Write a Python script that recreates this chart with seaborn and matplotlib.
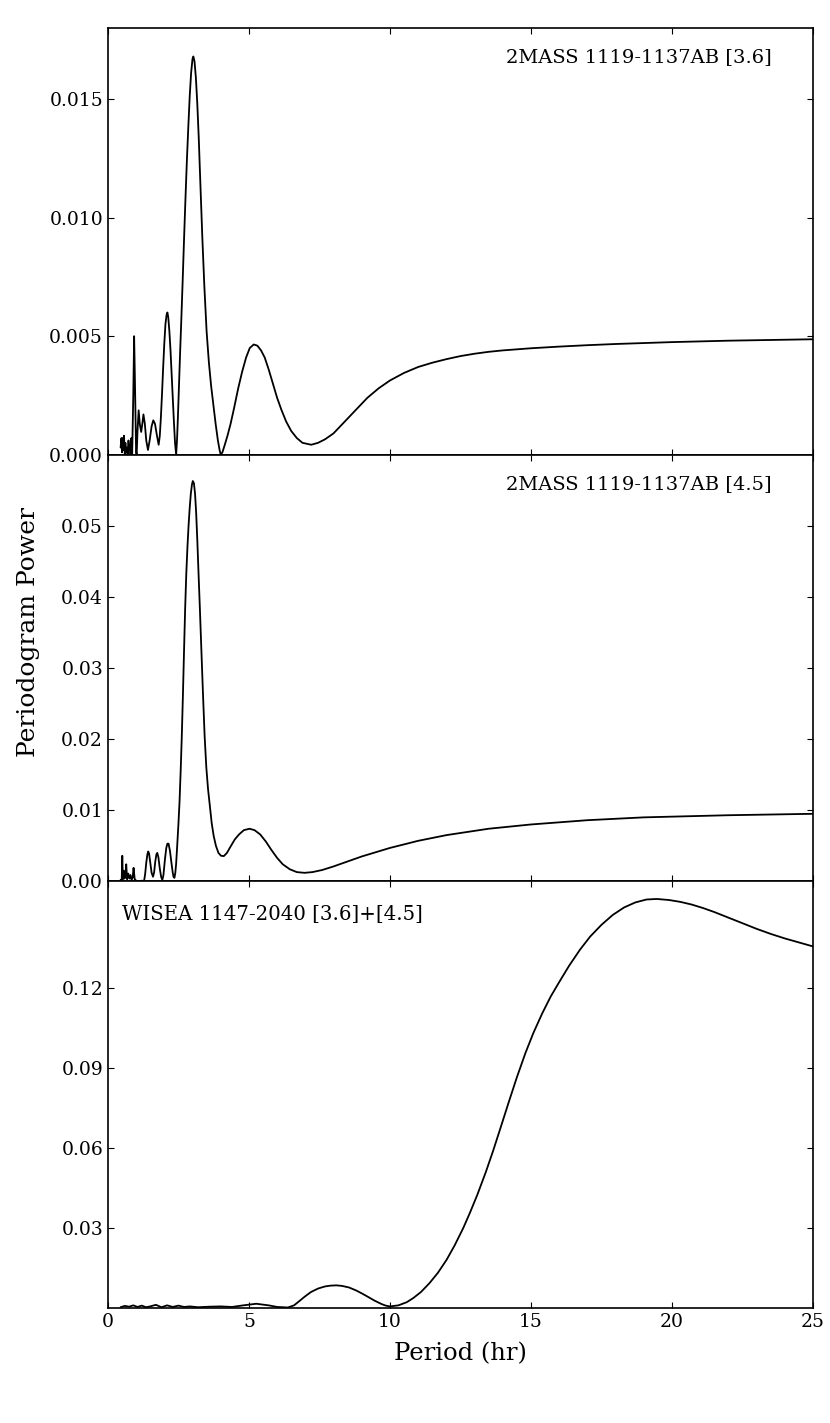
import numpy as np
import pandas as pd
import seaborn as sns
from matplotlib import pyplot as plt
from matplotlib.ticker import FormatStrFormatter

# periodogram values
p1_period = [0.45, 0.48, 0.50, 0.52, 0.55, 0.57, 0.60, 0.62, 0.65, 0.68, 0.70, 0.73, 0.76, 0.78,
             0.80, 0.83, 0.86, 0.90, 0.93, 0.96, 1.00, 1.02, 1.05, 1.09, 1.13, 1.18, 1.22, 1.26,
             1.31, 1.36, 1.42, 1.48, 1.55, 1.61, 1.67, 1.74, 1.80, 1.84, 1.88, 1.92, 1.96, 2.00,
             2.04, 2.08, 2.11, 2.14, 2.18, 2.22, 2.26, 2.30, 2.34, 2.38, 2.42, 2.45, 2.48, 2.52,
             2.56, 2.60, 2.65, 2.70, 2.75, 2.80, 2.85, 2.90, 2.95, 3.00, 3.03, 3.07, 3.12, 3.17,
             3.22, 3.28, 3.35, 3.42, 3.50, 3.58, 3.66, 3.74, 3.82, 3.90, 3.96, 4.00, 4.06, 4.14,
             4.24, 4.35, 4.48, 4.62, 4.76, 4.90, 5.03, 5.17, 5.30, 5.43, 5.56, 5.70, 5.85, 6.00,
             6.15, 6.32, 6.50, 6.70, 6.90, 7.21, 7.45, 7.70, 8.00, 8.40, 8.80, 9.20, 9.60, 10.0,
             10.5, 11.0, 11.5, 12.0, 12.5, 13.0, 13.5, 14.0, 15.0, 16.0, 17.0, 18.0, 20.0, 22.0, 25.0]
p1_power = [0.0003, 0.0007, 0.0001, 0.0007, 0.0002, 0.0008, 0.0, 0.0005, 0.0001, 0.0003, 0.0, 0.0006,
            0.0002, 0.0004, 0.0, 0.0007, 0.0, 0.0025, 0.0050, 0.0030, 0.0001, 0.0, 0.0010, 0.00187,
            0.0013, 0.00096, 0.0013, 0.0017, 0.0013, 0.0006, 0.0002, 0.0006, 0.0012, 0.00145,
            0.0013, 0.0008, 0.00042, 0.0008, 0.0016, 0.0026, 0.0037, 0.0047, 0.0055, 0.0059,
            0.0060, 0.0058, 0.0052, 0.0044, 0.0034, 0.0024, 0.0014, 0.0005, 0.0, 0.0006, 0.0015,
            0.0029, 0.0043, 0.0056, 0.0073, 0.0091, 0.0108, 0.0124, 0.0138, 0.0151, 0.0161,
            0.0167, 0.0168, 0.0166, 0.0159, 0.0148, 0.0134, 0.0114, 0.0091, 0.0071, 0.0052,
            0.0039, 0.0029, 0.0021, 0.0013, 0.0006, 0.0002, 0.0, 0.0001, 0.0004, 0.0008, 0.0013,
            0.0020, 0.0028, 0.0035, 0.0041, 0.0045, 0.00465, 0.0046, 0.0044, 0.0041, 0.0036,
            0.0030, 0.0024, 0.0019, 0.0014, 0.0010, 0.0007, 0.0005, 0.00042, 0.0005, 0.00065,
            0.0009, 0.0014, 0.0019, 0.0024, 0.0028, 0.00313, 0.00345, 0.0037, 0.00388, 0.00403,
            0.00416, 0.00426, 0.00434, 0.0044, 0.00449, 0.00456, 0.00462, 0.00467, 0.00475,
            0.00481, 0.00487]

p2_period = [0.45, 0.49, 0.51, 0.53, 0.56, 0.59, 0.62, 0.65, 0.68, 0.72, 0.76, 0.80, 0.84, 0.88,
             0.91, 0.95, 1.00, 1.10, 1.20, 1.28, 1.32, 1.36, 1.40, 1.43, 1.46, 1.50, 1.55, 1.60,
             1.64, 1.68, 1.72, 1.75, 1.79, 1.84, 1.89, 1.93, 1.97, 2.02, 2.07, 2.11, 2.15, 2.20,
             2.25, 2.30, 2.33, 2.36, 2.39, 2.42, 2.46, 2.50, 2.54, 2.58, 2.62, 2.66, 2.70, 2.74,
             2.78, 2.82, 2.86, 2.90, 2.94, 2.98, 3.01, 3.05, 3.09, 3.13, 3.17, 3.21, 3.26, 3.31,
             3.37, 3.43, 3.49, 3.55, 3.61, 3.68, 3.75, 3.83, 3.92, 4.01, 4.11, 4.22, 4.35, 4.50,
             4.65, 4.82, 5.02, 5.20, 5.40, 5.60, 5.80, 6.00, 6.20, 6.45, 6.70, 6.97, 7.25, 7.60,
             8.00, 8.50, 9.00, 9.50, 10.0, 10.5, 11.0, 11.5, 12.0, 12.5, 13.0, 13.5, 14.0, 15.0,
             16.0, 17.0, 18.0, 19.0, 20.0, 22.0, 25.0]
p2_power = [0.0002, 0.0002, 0.0036, 0.0003, 0.0015, 0.0004, 0.0010, 0.0024, 0.0003, 0.0011, 0.0004,
            0.0009, 0.0002, 0.0006, 0.0019, 0.0003, 0.0001, 0.0, 0.0001, 0.0, 0.0010, 0.0026, 0.0038,
            0.0042, 0.0039, 0.0027, 0.0012, 0.00065, 0.0013, 0.0028, 0.0038, 0.0040, 0.0034, 0.0018,
            0.0006, 0.0002, 0.0009, 0.0030, 0.0047, 0.0053, 0.0053, 0.0043, 0.0027, 0.0012, 0.0006,
            0.0005, 0.0012, 0.0025, 0.0052, 0.0080, 0.0112, 0.0155, 0.0204, 0.0262, 0.0325, 0.0385,
            0.0433, 0.0470, 0.0500, 0.0525, 0.0545, 0.0558, 0.0563, 0.0560, 0.0545, 0.0518, 0.0480,
            0.0437, 0.0385, 0.0330, 0.0265, 0.0204, 0.0160, 0.0130, 0.0108, 0.0082, 0.0064, 0.0050,
            0.0040, 0.0036, 0.00355, 0.0040, 0.0049, 0.0059, 0.0066, 0.0072, 0.0074, 0.0072, 0.0066,
            0.0056, 0.0044, 0.0033, 0.0024, 0.0017, 0.0013, 0.0012, 0.0013, 0.0016, 0.0021, 0.0028,
            0.0035, 0.0041, 0.0047, 0.0052, 0.0057, 0.0061, 0.0065, 0.0068, 0.0071, 0.0074, 0.0076,
            0.0080, 0.0083, 0.0086, 0.0088, 0.0090, 0.0091, 0.0093, 0.0095]

p3_period = [0.45, 0.60, 0.75, 0.90, 1.05, 1.20, 1.35, 1.50, 1.70, 1.90, 2.10, 2.30, 2.50, 2.70,
             2.90, 3.20, 3.60, 4.00, 4.40, 4.80, 5.26, 5.70, 6.00, 6.38, 6.60, 6.80, 6.97, 7.20,
             7.45, 7.70, 7.90, 8.10, 8.30, 8.55, 8.80, 9.00, 9.22, 9.45, 9.70, 9.85, 10.0, 10.3,
             10.6, 10.83, 11.1, 11.4, 11.7, 12.01, 12.3, 12.6, 12.84, 13.1, 13.4, 13.66, 13.95,
             14.2, 14.5, 14.8, 15.08, 15.4, 15.7, 16.0, 16.35, 16.74, 17.1, 17.5, 17.9, 18.3, 18.7,
             19.1, 19.46, 19.9, 20.3, 20.7, 21.1, 21.5, 22.0, 22.5, 23.0, 23.5, 24.0, 24.5, 25.0]
p3_power = [0.0003, 0.0008, 0.0005, 0.0010, 0.0004, 0.0009, 0.0003, 0.0006, 0.0012, 0.0003, 0.0010,
            0.0004, 0.0009, 0.0004, 0.0006, 0.0003, 0.0005, 0.0006, 0.0004, 0.0010, 0.0016, 0.0010,
            0.0004, 0.0002, 0.0010, 0.0027, 0.0042, 0.0060, 0.0073, 0.0081, 0.0084, 0.0085, 0.0083,
            0.0077, 0.0066, 0.0055, 0.0042, 0.0028, 0.0015, 0.0009, 0.0006, 0.0010, 0.0022, 0.00375,
            0.0060, 0.0093, 0.0132, 0.0181, 0.0236, 0.0300, 0.0358, 0.0425, 0.0510, 0.0590, 0.0685,
            0.0768, 0.0865, 0.0955, 0.1030, 0.1105, 0.1168, 0.1222, 0.1283, 0.1344, 0.1393, 0.1437,
            0.1474, 0.1502, 0.1521, 0.1532, 0.1534, 0.1530, 0.1523, 0.1513, 0.1500, 0.1485, 0.1464,
            0.1443, 0.1422, 0.1403, 0.1386, 0.1371, 0.1356]

labels = ["2MASS 1119-1137AB [3.6]", "2MASS 1119-1137AB [4.5]", "WISEA 1147-2040 [3.6]+[4.5]"]

sns.set_style("ticks")
plt.rcParams["font.family"] = ["DejaVu Serif"]
plt.rcParams["text.color"] = "black"
plt.rcParams["axes.labelcolor"] = "black"
plt.rcParams["xtick.direction"] = "in"
plt.rcParams["ytick.direction"] = "in"
plt.rcParams["xtick.top"] = True
plt.rcParams["ytick.right"] = True
plt.rcParams["xtick.major.size"] = 4.5
plt.rcParams["ytick.major.size"] = 4.5
plt.rcParams["axes.linewidth"] = 1.2
plt.rcParams["axes.edgecolor"] = "black"

fig, axes = plt.subplots(3, 1, sharex=True, figsize=(8.3, 14.23), dpi=100)
plt.subplots_adjust(left=0.130, right=0.9795, top=0.9803, bottom=0.0808, hspace=0)

data = [(p1_period, p1_power), (p2_period, p2_power), (p3_period, p3_power)]
for ax, (per, pw) in zip(axes, data):
    df = pd.DataFrame({"Period": per, "Power": pw})
    sns.lineplot(x="Period", y="Power", data=df, ax=ax, color="black", linewidth=1.3)
    ax.set_xlabel("")
    ax.set_ylabel("")
    ax.tick_params(labelsize=13.5, colors="black")

axes[0].set_ylim(0, 0.018)
axes[0].set_yticks([0.0, 0.005, 0.010, 0.015])
axes[0].yaxis.set_major_formatter(FormatStrFormatter("%.3f"))
axes[1].set_ylim(0, 0.06)
axes[1].set_yticks([0.0, 0.01, 0.02, 0.03, 0.04, 0.05])
axes[1].yaxis.set_major_formatter(FormatStrFormatter("%.2f"))
axes[2].set_ylim(0, 0.16)
axes[2].set_yticks([0.03, 0.06, 0.09, 0.12])
axes[2].yaxis.set_major_formatter(FormatStrFormatter("%.2f"))

axes[2].set_xlim(0, 25)
axes[2].set_xticks([0, 5, 10, 15, 20, 25])
axes[2].set_xlabel("Period (hr)", fontsize=17.5, labelpad=8, color="black")

axes[0].text(0.942, 0.932, labels[0], transform=axes[0].transAxes, ha="right", va="center",
             fontsize=14, color="black")
axes[1].text(0.942, 0.932, labels[1], transform=axes[1].transAxes, ha="right", va="center",
             fontsize=14, color="black")
axes[2].text(0.02, 0.923, labels[2], transform=axes[2].transAxes, ha="left", va="center",
             fontsize=14.2, color="black")

fig.text(0.034, 0.556, "Periodogram Power", rotation=90, ha="center", va="center",
         fontsize=18, color="black")

plt.savefig("out.png", dpi=100)
